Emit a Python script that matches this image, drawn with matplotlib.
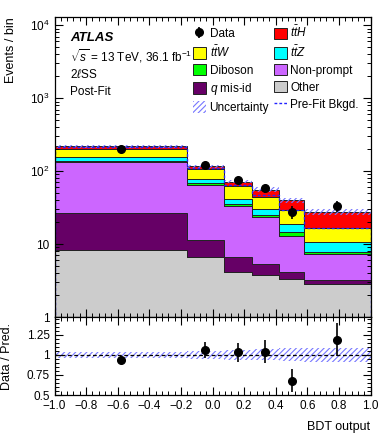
import numpy as np
import matplotlib
matplotlib.use("Agg")
import matplotlib.pyplot as plt
from matplotlib.patches import Patch
from matplotlib.lines import Line2D
from matplotlib.ticker import MultipleLocator, FixedLocator, LogLocator, NullFormatter

plt.rcParams['font.family'] = ['Liberation Sans', 'DejaVu Sans']
plt.rcParams['mathtext.fontset'] = 'custom'
plt.rcParams['mathtext.rm'] = 'Liberation Sans'
plt.rcParams['mathtext.it'] = 'Liberation Sans:italic'
plt.rcParams['mathtext.bf'] = 'Liberation Sans:bold'
plt.rcParams['hatch.linewidth'] = 0.8

# bin edges of the BDT output
edges = np.array([-1.0, -0.16, 0.07, 0.25, 0.42, 0.58, 1.0])
centers = [-0.58, -0.045, 0.16, 0.335, 0.50, 0.79]

# post-fit yields per bin (stack order bottom -> top)
other = [8.4, 6.6, 4.1, 3.8, 3.3, 2.8]
qmisid = [18.6, 4.9, 2.6, 1.6, 0.8, 0.4]
nonprompt = [105, 52.5, 26.5, 18.0, 8.7, 4.2]
diboson = [6.0, 5.8, 1.9, 1.6, 1.8, 0.5]
ttz = [16, 7.8, 7.0, 5.6, 4.0, 2.7]
ttw = [46, 29, 19.5, 14.2, 10.4, 6.1]
tth = [18, 9.5, 10.5, 11.2, 10.8, 11.1]

data = [204, 123, 75, 58, 27.5, 33]
data_err = [14, 11, 8.7, 7.6, 5.3, 5.8]
prefit_bkg = [214, 112, 64, 47, 29, 16.8]
unc_rel = [0.04, 0.05, 0.06, 0.07, 0.08, 0.09]

ratio = [0.93, 1.06, 1.03, 1.04, 0.68, 1.19]
ratio_err = [0.05, 0.10, 0.12, 0.14, 0.14, 0.21]

stack = [
    (other, '#cccccc', 'Other'),
    (qmisid, '#660066', r'$q$ mis-id'),
    (nonprompt, '#cc66ff', 'Non-prompt'),
    (diboson, '#00ff00', 'Diboson'),
    (ttz, '#00ffff', r'$t\bar{t}Z$'),
    (ttw, '#ffff00', r'$t\bar{t}W$'),
    (tth, '#ff0000', r'$t\bar{t}H$'),
]

fig = plt.figure(figsize=(3.9, 4.4), dpi=100)
W, H = 390.0, 440.0
x0, x1 = 54.5, 370.5
ax = fig.add_axes([x0 / W, 1 - 317 / H, (x1 - x0) / W, (317 - 17) / H])
axr = fig.add_axes([x0 / W, 1 - 395 / H, (x1 - x0) / W, (395 - 317) / H], sharex=ax)

base = np.zeros(len(other))
handles = {}
for vals, col, lab in stack:
    vals = np.array(vals)
    ax.stairs(base + vals, edges, baseline=base, fill=True, facecolor=col,
              edgecolor='#222222', linewidth=0.7)
    handles[lab] = Patch(facecolor=col, edgecolor='#222222', linewidth=0.7)
    base = base + vals
total = base

unc_hatch = dict(fill=True, facecolor='none', hatch='//////', edgecolor='#7777ff', linewidth=0)
ax.stairs(total * (1 + np.array(unc_rel)), edges, baseline=total * (1 - np.array(unc_rel)), **unc_hatch)
ax.stairs(prefit_bkg, edges, color='#2222ff', linestyle=(0, (2, 1.5)), linewidth=1.0)
eb = ax.errorbar(centers, data, yerr=data_err, fmt='o', color='black', ms=5.5,
                 elinewidth=1.2, capsize=0)

ax.set_yscale('log')
ax.set_ylim(1, 1.3e4)
ax.set_xlim(-1, 1)
ax.yaxis.set_major_locator(FixedLocator([1, 10, 100, 1000, 10000]))
ax.set_yticklabels(['1', '10', '$10^2$', '$10^3$', '$10^4$'])
ax.yaxis.set_minor_locator(LogLocator(base=10, subs=np.arange(2, 10)))
ax.yaxis.set_minor_formatter(NullFormatter())
ax.set_ylabel('Events / bin', fontsize=9, loc='top')
ax.yaxis.set_label_coords(-0.12, 1.0)
plt.setp(ax.get_xticklabels(), visible=False)

# ratio panel
axr.stairs(1 + np.array(unc_rel), edges, baseline=1 - np.array(unc_rel), **unc_hatch)
axr.axhline(1, color='black', linestyle=(0, (3, 2)), linewidth=0.9)
axr.errorbar(centers, ratio, yerr=ratio_err, fmt='o', color='black', ms=5.5,
             elinewidth=1.2, capsize=0)
axr.set_ylim(0.5, 1.47)
axr.set_yticks([0.5, 0.75, 1, 1.25])
axr.set_yticklabels(['0.5', '0.75', '1', '1.25'])
axr.yaxis.set_minor_locator(MultipleLocator(0.05))
axr.xaxis.set_major_locator(MultipleLocator(0.2))
axr.xaxis.set_minor_locator(MultipleLocator(0.04))
axr.set_xlim(-1, 1)
axr.set_ylabel('Data / Pred.', fontsize=9)
axr.yaxis.set_label_coords(-0.132, 0.5)
axr.set_xlabel('BDT output', fontsize=9, loc='right')
axr.xaxis.set_label_coords(1.0, -0.33)

for a in (ax, axr):
    a.tick_params(which='both', direction='in', top=True, right=True, labelsize=8.5)
    a.tick_params(which='major', length=6, width=0.8)
    a.tick_params(which='minor', length=3, width=0.7)
    for s in a.spines.values():
        s.set_linewidth(0.9)

# legend (two columns, filled column-wise)
unc_h = Patch(facecolor='none', hatch='//////', edgecolor='#7777ff', linewidth=0)
pre_h = Line2D([], [], color='#2222ff', linestyle=(0, (2, 1.5)), linewidth=1.0)
leg_h = [eb, handles[r'$t\bar{t}W$'], handles['Diboson'], handles[r'$q$ mis-id'], unc_h,
         handles[r'$t\bar{t}H$'], handles[r'$t\bar{t}Z$'], handles['Non-prompt'], handles['Other'], pre_h]
leg_l = ['Data', r'$t\bar{t}W$', 'Diboson', r'$q$ mis-id', 'Uncertainty',
         r'$t\bar{t}H$', r'$t\bar{t}Z$', 'Non-prompt', 'Other', 'Pre-Fit Bkgd.']
fig.legend(leg_h, leg_l, ncol=2, loc='upper left', bbox_to_anchor=(193 / W, 1 - 25 / H),
           frameon=False, fontsize=8.5, handlelength=1.1, handleheight=1.1,
           handletextpad=0.3, columnspacing=0.4, labelspacing=0.36, borderaxespad=0, borderpad=0)

fig.text(70 / W, 1 - 38 / H, 'ATLAS', fontsize=9.5, fontweight='bold', fontstyle='italic', va='center')
fig.text(70 / W, 1 - 56 / H, r'$\sqrt{s}$ = 13 TeV, 36.1 fb$^{-1}$', fontsize=8.5, va='center')
fig.text(70 / W, 1 - 74 / H, r'2$\ell$SS', fontsize=8.5, va='center')
fig.text(70 / W, 1 - 92 / H, 'Post-Fit', fontsize=8.5, va='center')

fig.savefig('out.png', dpi=100)
